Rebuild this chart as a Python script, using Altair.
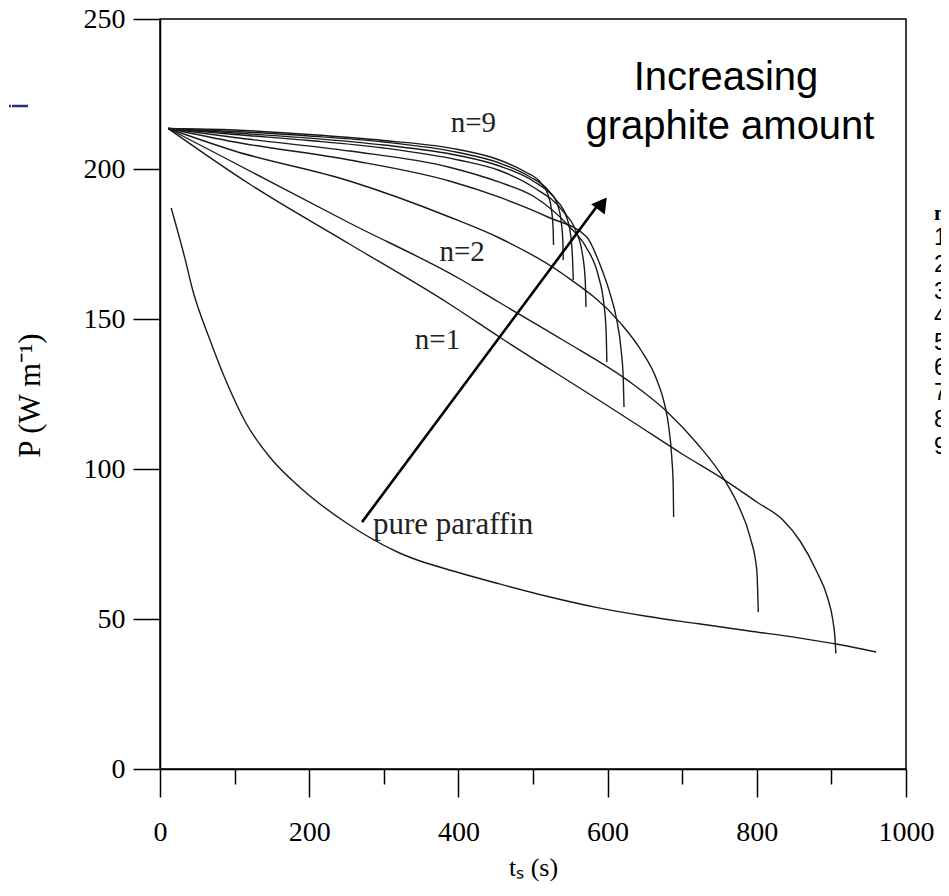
import altair as alt
import pandas as pd

# ---------------- data ----------------
paraffin_t = [15, 33, 44, 67, 90, 116, 147, 187, 250, 321, 400, 455, 520, 588, 650, 722, 790, 856, 910, 960]
paraffin_P = [187, 170.6, 159.5, 143, 128.5, 115, 104, 94, 82, 72, 65.5, 61.7, 57.5, 53.7, 51, 48.4, 46, 43.7, 41.5, 39]

n1_t = [11, 120, 254, 388, 455, 588, 638, 700, 757, 800, 835, 858, 880, 895, 902, 905, 906]
n1_P = [213.5, 195, 175, 155, 144, 123, 115, 105, 96.3, 89, 83, 76, 66, 57, 49.5, 43, 38.5]

n2_t = [11, 100, 254, 401, 455, 540, 626, 680, 720, 757, 775, 791, 800, 802]
n2_P = [213.5, 202, 182, 163.5, 155.5, 143, 129.7, 119, 108.5, 96.3, 88, 77.3, 66.3, 52.3]

n3_t = [11, 100, 254, 388, 455, 540, 617, 645, 666, 676, 682, 686, 688, 688.5]
n3_P = [213.5, 206, 196, 184, 177, 165, 148.7, 139.5, 129.7, 122, 114, 104, 94, 84]

n4_t = [11, 100, 254, 388, 455, 520, 572, 590, 603, 612, 618, 621, 622]
n4_P = [213.5, 209, 203, 196, 190.6, 184, 177.3, 168, 158.7, 150, 140, 130, 120.7]

n5_t = [11, 100, 254, 388, 455, 500, 548, 571, 588, 595, 598, 599]
n5_P = [213.5, 210.5, 206, 200.6, 195.6, 191, 181, 174, 164, 155, 146, 135.7]

n6_t = [11, 100, 200, 300, 400, 455, 500, 540, 558, 566, 570, 571]
n6_P = [213.5, 211.5, 209.5, 207, 203, 199.5, 194, 186, 179, 172, 163, 154]

n7_t = [11, 100, 200, 300, 400, 455, 500, 530, 545, 551, 553, 554]
n7_P = [213.5, 212, 210.3, 208, 204.5, 201, 196, 190, 184, 177, 170, 163]

n8_t = [11, 100, 200, 300, 400, 455, 495, 520, 533, 538, 540, 540.5]
n8_P = [213.5, 212.5, 211, 209, 205.5, 202, 197.5, 193, 188, 182, 176, 169.7]

n9_t = [11, 100, 200, 300, 400, 455, 490, 510, 520, 525, 527, 527.5]
n9_P = [213.5, 213, 211.5, 209.5, 206.5, 203, 199, 195.5, 191.5, 186, 180, 174.7]

series = {
    "pure paraffin": (paraffin_t, paraffin_P),
    "n=1": (n1_t, n1_P), "n=2": (n2_t, n2_P), "n=3": (n3_t, n3_P),
    "n=4": (n4_t, n4_P), "n=5": (n5_t, n5_P), "n=6": (n6_t, n6_P),
    "n=7": (n7_t, n7_P), "n=8": (n8_t, n8_P), "n=9": (n9_t, n9_P),
}

x_ticks = list(range(0, 1001, 100))
y_ticks = [0, 50, 100, 150, 200, 250]

curve_labels = ["n=9", "n=2", "n=1"]
curve_label_t = [420, 405, 372]
curve_label_P = [215.5, 172.5, 143]

paraffin_label = "pure paraffin"
paraffin_label_t = [393]
paraffin_label_P = [81.5]

arrow_t = [270.8, 590]
arrow_P = [82.3, 189]
arrowhead_t = [593]
arrowhead_P = [188.5]

note_lines = ["Increasing", "graphite amount"]
note_t = [758.7, 764]
note_P = [230.5, 214]

legend_items = ["n", "1", "2", "3", "4", "5", "6", "7", "8", "9"]
legend_P = [185.3, 177, 168, 159, 150.7, 142, 133.7, 125.3, 116.3, 107.3]
legend_t = 1037.5

# ---------------- tables ----------------
rows = []
for name, (ts, ps) in series.items():
    for i, (t, p) in enumerate(zip(ts, ps)):
        rows.append({"series": name, "t": t, "P": p, "idx": i})
df = pd.DataFrame(rows)

serif = "Liberation Serif"
sans = "Liberation Sans"

xscale = alt.Scale(domain=[0, 1000], nice=False, zero=False)
yscale = alt.Scale(domain=[0, 250], nice=False, zero=False)

x_axis = alt.Axis(
    values=x_ticks,
    labelExpr="datum.value % 200 === 0 ? '' + datum.value : ''",
    tickSize={"condition": {"test": "datum.value % 200 === 0", "value": 28}, "value": 15},
    tickColor="black", tickWidth=1.5, domainColor="black", domainWidth=1.5,
    labelFont=serif, labelFontSize=28, labelColor="black", labelPadding=21,
    labelFlush=False, labelOverlap=False, grid=False,
    title="tₛ (s)", titleFont=serif, titleFontSize=26, titleFontWeight="normal",
    titleColor="black", titleX=373, titleY=98, titleBaseline="middle", titleAnchor="middle",
)
y_axis = alt.Axis(
    values=y_ticks, tickSize=27, tickColor="black", tickWidth=1.5,
    domainColor="black", domainWidth=1.5,
    labelFont=serif, labelFontSize=28, labelColor="black", labelPadding=8,
    labelFlush=False, labelOverlap=False, grid=False,
    title="P (W m⁻¹)", titleFont=serif, titleFontSize=31, titleFontWeight="normal",
    titleColor="black", titleX=-130, titleY=376, titleAngle=-90,
    titleBaseline="middle", titleAlign="center",
)

lines = alt.Chart(df).mark_line(color="#1a1a1a", strokeWidth=1.4, interpolate="monotone").encode(
    x=alt.X("t:Q", scale=xscale, axis=x_axis),
    y=alt.Y("P:Q", scale=yscale, axis=y_axis),
    detail="series:N",
    order="idx:Q",
)

arrow_df = pd.DataFrame({"t": arrow_t, "P": arrow_P})
arrow = alt.Chart(arrow_df).mark_line(color="black", strokeWidth=2.6).encode(
    x=alt.X("t:Q", scale=xscale), y=alt.Y("P:Q", scale=yscale)
)
head_df = pd.DataFrame({"t": arrowhead_t, "P": arrowhead_P})
head = alt.Chart(head_df).mark_point(
    shape="triangle-up", filled=True, color="black", size=290, angle=36.6, opacity=1
).encode(x=alt.X("t:Q", scale=xscale), y=alt.Y("P:Q", scale=yscale))

lab_df = pd.DataFrame({"t": curve_label_t, "P": curve_label_P, "text": curve_labels})
labs = alt.Chart(lab_df).mark_text(
    font=serif, fontSize=29, color="#222", baseline="middle", align="center"
).encode(x=alt.X("t:Q", scale=xscale), y=alt.Y("P:Q", scale=yscale), text="text:N")

par_df = pd.DataFrame({"t": paraffin_label_t, "P": paraffin_label_P, "text": [paraffin_label]})
par = alt.Chart(par_df).mark_text(
    font=serif, fontSize=31, color="#222", baseline="middle", align="center"
).encode(x=alt.X("t:Q", scale=xscale), y=alt.Y("P:Q", scale=yscale), text="text:N")

note_df = pd.DataFrame({"t": note_t, "P": note_P, "text": note_lines})
note = alt.Chart(note_df).mark_text(
    font=sans, fontSize=40, color="black", baseline="middle", align="center"
).encode(x=alt.X("t:Q", scale=xscale), y=alt.Y("P:Q", scale=yscale), text="text:N")

leg_df = pd.DataFrame({"t": [legend_t] * len(legend_items), "P": legend_P, "text": legend_items,
                       "bold": [1] + [0] * (len(legend_items) - 1)})
leg_n = alt.Chart(leg_df[leg_df.bold == 1]).mark_text(
    font=serif, fontSize=22, fontWeight="bold", color="black", baseline="middle", align="left"
).encode(x=alt.X("t:Q", scale=xscale), y=alt.Y("P:Q", scale=yscale), text="text:N")
leg_d = alt.Chart(leg_df[leg_df.bold == 0]).mark_text(
    font=sans, fontSize=23, color="black", baseline="middle", align="left"
).encode(x=alt.X("t:Q", scale=xscale), y=alt.Y("P:Q", scale=yscale), text="text:N")

# small blue page-edge marks (decoration left of the axis)
dash = alt.Chart(pd.DataFrame({"k": [0]})).mark_rule(color="#1f3470", strokeWidth=2.5).encode(
    x=alt.value(-148), x2=alt.value(-132), y=alt.value(87)
)
dot = alt.Chart(pd.DataFrame({"k": [0]})).mark_rule(color="#1f3470", strokeWidth=2.5).encode(
    x=alt.value(-151), x2=alt.value(-149), y=alt.value(87)
)

chart = alt.layer(lines, arrow, head, labs, par, note, leg_n, leg_d, dash, dot).properties(
    width=746, height=750,
    autosize=alt.AutoSizeParams(type="none"),
    padding={"left": 152, "top": 11, "right": 35, "bottom": 113},
    background="white",
).configure_view(stroke="black", strokeWidth=1.5)

chart.save("out.html", embed_options={"renderer": "svg", "actions": False})
